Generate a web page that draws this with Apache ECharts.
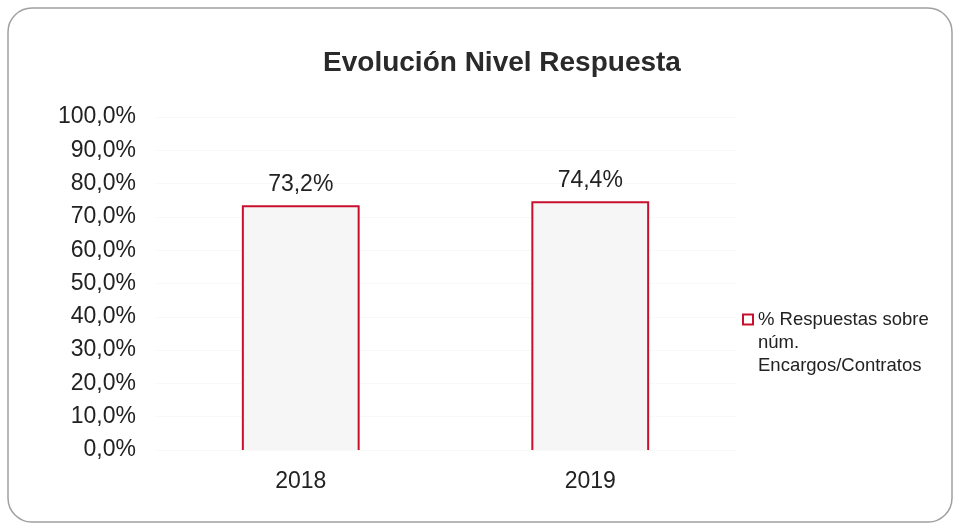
<!DOCTYPE html>
<html>
<head>
<meta charset="utf-8">
<script src="https://cdn.jsdelivr.net/npm/echarts@6/dist/echarts.min.js"></script>
<style>
  html, body { margin: 0; padding: 0; background: #fff; }
  #main { width: 960px; height: 529px; }
</style>
</head>
<body>
<div id="main"></div>
<script>
// datos
const years = ['2018', '2019']
const respuestas = [73.2, 74.4]
const serieNombre = '% Respuestas sobre\nnúm.\nEncargos/Contratos'

const fmt = v => v.toFixed(1).replace('.', ',') + '%'
const rojo = '#c8102e'
const fuente = 'Liberation Sans, Arial, sans-serif'

const myChart = echarts.init(document.getElementById('main'))

const option = {
  backgroundColor: '#fff',
  textStyle: { fontFamily: fuente, color: '#222' },
  graphic: [{
    type: 'rect',
    shape: { x: 8, y: 8, width: 944, height: 514, r: 24 },
    style: { fill: 'none', stroke: '#a0a0a0', lineWidth: 1.5 },
    silent: true
  }],
  title: {
    text: 'Evolución Nivel Respuesta',
    left: 497,
    textAlign: 'center',
    top: 44,
    textStyle: { fontSize: 28, fontWeight: 'bold', color: '#2a2a2a', fontFamily: fuente }
  },
  legend: {
    orient: 'vertical',
    left: 737,
    top: 257,
    itemWidth: 10,
    itemHeight: 10,
    itemGap: 4,
    formatter: n => '\n\n' + n,
    textStyle: { fontSize: 18.5, color: '#222', lineHeight: 23, fontFamily: fuente },
    data: [{
      name: serieNombre,
      icon: 'rect',
      itemStyle: { color: '#fff', borderColor: rojo, borderWidth: 2 }
    }]
  },
  grid: { left: 156, right: 225, top: 117, bottom: 79 },
  xAxis: {
    type: 'category',
    data: years,
    axisLine: { show: false },
    axisTick: { show: false },
    axisLabel: { fontSize: 23, color: '#222', margin: 20 }
  },
  yAxis: {
    type: 'value',
    min: 0,
    max: 100,
    interval: 10,
    axisLine: { show: false },
    axisTick: { show: false },
    splitLine: { lineStyle: { color: '#f2f2f2', type: 'dotted' } },
    axisLabel: { fontSize: 23, color: '#222', margin: 20, padding: [6, 0, 0, 0], formatter: fmt }
  },
  series: [{
    name: serieNombre,
    type: 'custom',
    data: respuestas.map((v, i) => [i, v]),
    renderItem: function (params, api) {
      const base = api.coord([api.value(0), 0])
      const top = api.coord([api.value(0), api.value(1)])
      const w = api.size([1, 0])[0] * 0.4
      const x0 = base[0] - w / 2
      const x1 = base[0] + w / 2
      return {
        type: 'group',
        children: [{
          type: 'rect',
          shape: { x: x0, y: top[1], width: w, height: base[1] - top[1] },
          style: { fill: '#f6f6f6' }
        }, {
          type: 'polyline',
          shape: { points: [[x0, base[1]], [x0, top[1]], [x1, top[1]], [x1, base[1]]] },
          style: { fill: 'none', stroke: rojo, lineWidth: 2 }
        }, {
          type: 'text',
          x: base[0],
          y: top[1] - 10,
          style: {
            text: fmt(api.value(1)),
            fontSize: 23,
            fill: '#222',
            align: 'center',
            verticalAlign: 'bottom',
            fontFamily: fuente
          }
        }]
      }
    }
  }]
}

myChart.setOption(option)
</script>
</body>
</html>
